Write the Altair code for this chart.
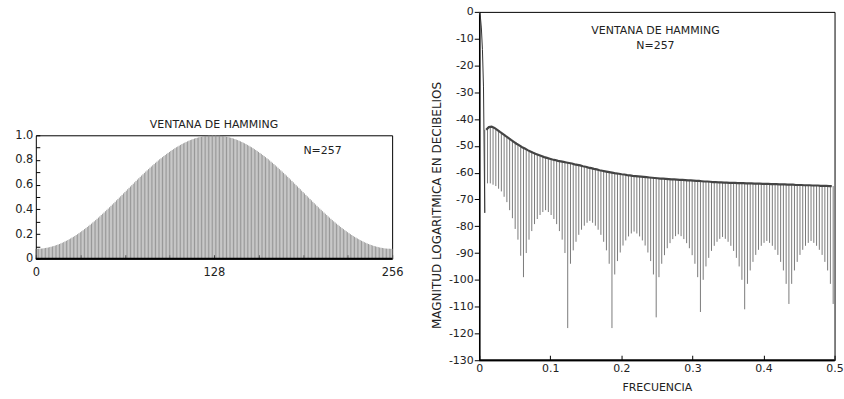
import altair as alt
import pandas as pd

# ---------------- data: Hamming window, N = 257 (n = 0..256) ----------------
hamming_w = [
    0.080, 0.080, 0.081, 0.081, 0.082, 0.083, 0.085, 0.087, 0.089, 0.091,
    0.094, 0.097, 0.100, 0.103, 0.107, 0.111, 0.115, 0.119, 0.124, 0.129,
    0.134, 0.140, 0.145, 0.151, 0.158, 0.164, 0.171, 0.177, 0.184, 0.192,
    0.199, 0.207, 0.215, 0.223, 0.231, 0.240, 0.248, 0.257, 0.266, 0.275,
    0.284, 0.294, 0.303, 0.313, 0.323, 0.333, 0.343, 0.354, 0.364, 0.374,
    0.385, 0.396, 0.406, 0.417, 0.428, 0.439, 0.450, 0.461, 0.473, 0.484,
    0.495, 0.506, 0.517, 0.529, 0.540, 0.551, 0.563, 0.574, 0.585, 0.596,
    0.607, 0.619, 0.630, 0.641, 0.652, 0.663, 0.674, 0.684, 0.695, 0.706,
    0.716, 0.726, 0.737, 0.747, 0.757, 0.767, 0.777, 0.786, 0.796, 0.806,
    0.814, 0.823, 0.832, 0.840, 0.849, 0.857, 0.865, 0.873, 0.881, 0.888,
    0.896, 0.903, 0.909, 0.916, 0.922, 0.929, 0.935, 0.940, 0.946, 0.951,
    0.956, 0.961, 0.965, 0.969, 0.973, 0.977, 0.980, 0.983, 0.986, 0.988,
    0.991, 0.993, 0.995, 0.996, 0.998, 0.999, 0.999, 1.000, 1.000,
    1.000, 0.999, 0.999, 0.998, 0.996, 0.995, 0.993, 0.991, 0.988, 0.986,
    0.983, 0.980, 0.977, 0.973, 0.969, 0.965, 0.961, 0.956, 0.951, 0.946,
    0.940, 0.935, 0.929, 0.922, 0.916, 0.909, 0.903, 0.896, 0.888, 0.881,
    0.873, 0.865, 0.857, 0.849, 0.840, 0.832, 0.823, 0.814, 0.806, 0.796,
    0.786, 0.777, 0.767, 0.757, 0.747, 0.737, 0.726, 0.716, 0.706, 0.695,
    0.684, 0.674, 0.663, 0.652, 0.641, 0.630, 0.619, 0.607, 0.596, 0.585,
    0.574, 0.563, 0.551, 0.540, 0.529, 0.517, 0.506, 0.495, 0.484, 0.473,
    0.461, 0.450, 0.439, 0.428, 0.417, 0.406, 0.396, 0.385, 0.374, 0.364,
    0.354, 0.343, 0.333, 0.323, 0.313, 0.303, 0.294, 0.284, 0.275, 0.266,
    0.257, 0.248, 0.240, 0.231, 0.223, 0.215, 0.207, 0.199, 0.192, 0.184,
    0.177, 0.171, 0.164, 0.158, 0.151, 0.145, 0.140, 0.134, 0.129, 0.124,
    0.119, 0.115, 0.111, 0.107, 0.103, 0.100, 0.097, 0.094, 0.091, 0.089,
    0.087, 0.085, 0.083, 0.082, 0.081, 0.081, 0.080, 0.080,
]

# ---------------- data: log magnitude spectrum (dB) ----------------
N_WIN = 257
# main lobe
main_lobe_f = [0.0, 0.0015, 0.003, 0.0045, 0.006, 0.0078]
main_lobe_db = [0.0, -1.5, -6.0, -14.0, -28.0, -75.0]

# spectral nulls at f = k / 257, k = 2..128 (depth as drawn)
null_bins = list(range(2, 129))
null_db = [
    -75, -64, -64, -64.5, -65, -66, -67, -69, -71, -74,
    -77, -81, -85, -91, -99,
    -90, -85, -81.8, -79.2, -77.3, -75.8, -74.7, -74, -74.7, -75.8, -77.3, -79.2, -81.8, -85, -90, -118,
    -94, -89, -85.8, -83.2, -81.3, -79.8, -78.7, -78, -78.7, -79.8, -81.3, -83.2, -85.8, -89, -94, -118,
    -98, -93, -89.8, -87.2, -85.3, -83.8, -82.7, -82, -82.7, -83.8, -85.3, -87.2, -89.8, -93, -98, -114,
    -99, -94, -90.8, -88.2, -86.3, -84.8, -83.7, -83, -83.7, -84.8, -86.3, -88.2, -90.8, -94, -99, -112,
    -100, -95, -91.8, -89.2, -87.3, -85.8, -84.7, -84, -84.7, -85.8, -87.3, -89.2, -91.8, -95, -100, -111,
    -101.5, -96.5, -93.3, -90.7, -88.8, -87.3, -86.2, -85.5, -86.2, -87.3, -88.8, -90.7, -93.3, -96.5, -101.5, -109,
    -101.5, -96.5, -93.3, -90.7, -88.8, -87.3, -86.2, -85.5, -86.2, -87.3, -88.8, -90.7, -93.3, -96.5, -101.5, -109,
]

# side-lobe peaks between null k and k+1 (k = 2..127)
peak_db = [
    -44.0, -43.0, -42.8, -43.3, -44.0, -44.8, -45.5, -46.3, -47.0, -47.8,
    -48.5, -49.2, -49.8, -50.5, -51.0, -51.6, -52.1, -52.6, -53.0, -53.4,
    -53.8, -54.2, -54.5, -54.8, -55.1, -55.3, -55.6, -55.8, -56.0, -56.2,
    -56.4, -56.6, -56.9, -57.1, -57.3, -57.6, -57.8, -58.1, -58.3, -58.6,
    -58.8, -59.1, -59.3, -59.5, -59.7, -59.9, -60.1, -60.3, -60.4, -60.6,
    -60.7, -60.9, -61.0, -61.2, -61.3, -61.4, -61.5, -61.6, -61.7, -61.8,
    -61.9, -62.0, -62.1, -62.2, -62.2, -62.3, -62.4, -62.5, -62.5, -62.6,
    -62.7, -62.7, -62.8, -62.9, -62.9, -63.0, -63.1, -63.1, -63.2, -63.3,
    -63.3, -63.4, -63.5, -63.5, -63.6, -63.6, -63.7, -63.7, -63.8, -63.8,
    -63.8, -63.9, -63.9, -63.9, -64.0, -64.0, -64.0, -64.1, -64.1, -64.1,
    -64.2, -64.2, -64.2, -64.3, -64.3, -64.3, -64.4, -64.4, -64.4, -64.5,
    -64.5, -64.5, -64.6, -64.6, -64.6, -64.7, -64.7, -64.7, -64.8, -64.8,
    -64.8, -64.9, -64.9, -64.9, -65.0, -65.0,
]

FONT = "DejaVu Sans"
INK = "#222222"

# ---------------- tables ----------------
win_df = pd.DataFrame({"n": list(range(len(hamming_w))), "w": hamming_w})
nulls_df = pd.DataFrame({
    "f": [k / N_WIN for k in null_bins],
    "db": null_db,
    "top": [peak_db[min(i, len(peak_db) - 1)] for i in range(len(null_db))],
})
peaks_df = pd.DataFrame({
    "f": [(k + 0.5) / N_WIN for k in null_bins[:len(peak_db)]],
    "db": peak_db,
})
main_df = pd.DataFrame({"f": main_lobe_f, "db": main_lobe_db})

# ---------------- left panel: the window ----------------
lx = alt.X(
    "n:Q",
    scale=alt.Scale(domain=[0, 256], nice=False, zero=False),
    axis=alt.Axis(
        values=[0, 32, 64, 96, 128, 160, 192, 224, 256], tickCount=40,
        labelExpr="datum.value % 128 == 0 ? datum.label : ''",
        tickSize=4, offset=-4, domain=False, grid=False, labelPadding=8,
        labelFontSize=11.5, labelOverlap=False, labelFlush=False, title=None,
    ),
)
ly = alt.Y(
    "w:Q",
    scale=alt.Scale(domain=[0, 1], nice=False),
    axis=alt.Axis(
        values=[0, 0.1, 0.2, 0.3, 0.4, 0.5, 0.6, 0.7, 0.8, 0.9, 1.0], tickCount=40,
        labelExpr="datum.value == 0 ? '0' : (round(datum.value * 10) % 2 == 0 ? format(datum.value, '.1f') : '')",
        tickSize=4, offset=-4, domain=False, grid=False, labelPadding=3,
        labelFontSize=11.5, labelOverlap=False, labelFlush=False, title=None,
    ),
)

stems = alt.Chart(win_df).mark_rule(color="#8c8c8c", strokeWidth=0.9).encode(
    x=lx, y=ly, y2=alt.datum(0)
)
base_line = alt.Chart(pd.DataFrame({"z": [0]})).mark_rule(
    color="black", strokeWidth=2
).encode(y="z:Q")
n_label_left = alt.Chart(pd.DataFrame({"t": ["N=257"]})).mark_text(
    font=FONT, fontSize=11, color=INK
).encode(x=alt.datum(206), y=alt.datum(0.871), text="t:N")

left = alt.layer(stems, base_line, n_label_left).properties(
    width=358,
    height=124,
    title=alt.TitleParams(
        "VENTANA DE HAMMING", font=FONT, fontSize=11, fontWeight="normal",
        color=INK, offset=-1,
    ),
)

spacer = alt.Chart(pd.DataFrame({"v": [0]})).mark_point(opacity=0).encode(
    x=alt.X("v:Q", axis=None), y=alt.Y("v:Q", axis=None)
).properties(width=10, height=106, view=alt.ViewBackground(stroke="transparent"))

left_col = alt.vconcat(spacer, left, spacing=0)

# ---------------- right panel: the spectrum ----------------
rx = alt.X(
    "f:Q",
    scale=alt.Scale(domain=[0, 0.5], nice=False, zero=False),
    axis=alt.Axis(
        values=[0, 0.1, 0.2, 0.3, 0.4, 0.5], tickCount=40,
        labelExpr="datum.value == 0 ? '0' : format(datum.value, '.1f')",
        tickSize=5, offset=-5, domain=False, grid=False, labelPadding=2,
        labelFontSize=11, labelOverlap=False, labelFlush=False,
        title="FRECUENCIA", titleFontSize=11, titleFontWeight="normal",
        titlePadding=8,
    ),
)
ry = alt.Y(
    "db:Q",
    scale=alt.Scale(domain=[-130, 0], nice=False, zero=False),
    axis=alt.Axis(
        values=list(range(-130, 1, 10)), tickCount=40,
        labelExpr="datum.value == 0 ? '0' : '-' + abs(datum.value)",
        tickSize=5, domain=True, domainWidth=1.5, grid=False, labelPadding=1,
        labelFontSize=11, labelOverlap=False, labelFlush=False,
        title="MAGNITUD LOGARITMICA EN DECIBELIOS",
        titleFontSize=12, titleFontWeight="normal", titleX=-36, titleY=194,
    ),
)

null_rules = alt.Chart(nulls_df).mark_rule(color="#7a7a7a", strokeWidth=1).encode(
    x=rx, y=ry, y2="top:Q"
)
envelope = alt.Chart(peaks_df).mark_line(color="#444444", strokeWidth=2.2).encode(
    x="f:Q", y="db:Q"
)
main_lobe = alt.Chart(main_df).mark_line(color="#333333", strokeWidth=1).encode(
    x="f:Q", y="db:Q"
)
bottom_line = alt.Chart(pd.DataFrame({"z": [-130]})).mark_rule(
    color="black", strokeWidth=2
).encode(y="z:Q")
title_r = alt.Chart(pd.DataFrame({"t": ["VENTANA DE HAMMING"]})).mark_text(
    font=FONT, fontSize=11, color=INK
).encode(x=alt.datum(0.248), y=alt.datum(-7.3), text="t:N")
n_label_r = alt.Chart(pd.DataFrame({"t": ["N=257"]})).mark_text(
    font=FONT, fontSize=11, color=INK
).encode(x=alt.datum(0.248), y=alt.datum(-12.8), text="t:N")

right = alt.layer(
    null_rules, envelope, main_lobe, bottom_line, title_r, n_label_r
).properties(width=357, height=350)

chart = alt.hconcat(left_col, right, spacing=25.5).properties(
    padding={"left": 14, "top": 4, "right": 0, "bottom": 0}
).configure_view(
    stroke="black", strokeWidth=1
).configure_axis(
    labelFont=FONT, titleFont=FONT, labelColor=INK, titleColor=INK,
    tickColor="black", domainColor="black",
)

chart.save("out.html", embed_options={"renderer": "svg", "actions": False})
